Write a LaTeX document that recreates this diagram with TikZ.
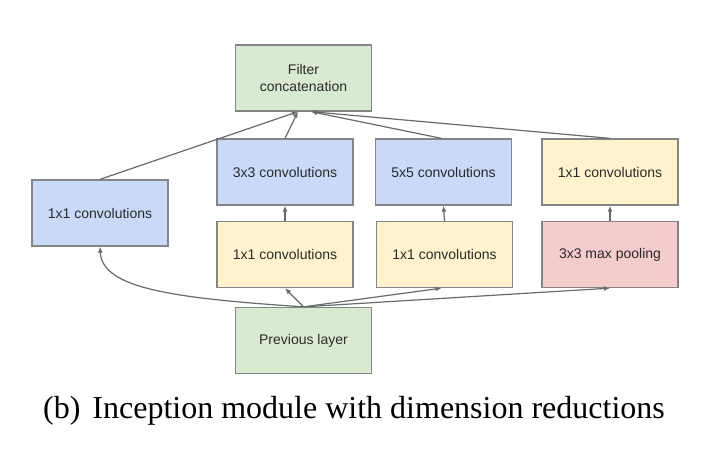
\documentclass[tikz,border=0pt]{standalone}
\usepackage{fontspec}
\setmainfont{Liberation Serif}
\newfontfamily\boxfont{Liberation Sans}
\usetikzlibrary{arrows.meta}
\definecolor{gfill}{HTML}{D9EAD3}
\definecolor{bfill}{HTML}{C9DAF8}
\definecolor{yfill}{HTML}{FFF2CC}
\definecolor{pfill}{HTML}{F4CCCC}
\definecolor{edgec}{HTML}{858585}
\definecolor{linec}{HTML}{6A6A6A}
\definecolor{txtc}{HTML}{2A2A2A}
\tikzset{
  box/.style={draw=edgec, line width=1.3pt, minimum width=136pt, minimum height=66pt,
    inner sep=0pt, align=center, text=txtc,
    font=\boxfont\fontsize{14}{17}\selectfont},
  green/.style={box, fill=gfill},
  blue/.style={box, fill=bfill},
  yellow/.style={box, fill=yfill},
  pink/.style={box, fill=pfill},
  conn/.style={draw=linec, line width=1.2pt, -{Latex[length=6pt,width=5pt]}}
}
\begin{document}
\begin{tikzpicture}[x=1pt,y=-1pt]
\useasboundingbox (0,0) rectangle (720,453);
\fill[white] (0,0) rectangle (720,453);
\node[green]  (concat) at (303.5,78)   {Filter\\concatenation};
\node[blue]   (c3)     at (285,172)    {3x3 convolutions};
\node[blue]   (c5)     at (443.5,172)  {5x5 convolutions};
\node[yellow] (r1)     at (610,172)    {1x1 convolutions};
\node[blue]   (l1)     at (100,213)    {1x1 convolutions};
\node[yellow] (ma)     at (285,254.5)  {1x1 convolutions};
\node[yellow] (mb)     at (444.5,254.5){1x1 convolutions};
\node[pink]   (pool)   at (610,254.5)  {3x3 max pooling};
\node[green]  (prev)   at (303.5,340.5){Previous layer};
% from previous layer
\draw[conn] (prev.north) .. controls (170,298) and (102,288) .. (l1.south);
\draw[conn] (prev.north) -- (ma.south);
\draw[conn] (prev.north) -- ([xshift=-3pt]mb.south);
\draw[conn] (prev.north) -- (pool.south);
% vertical
\draw[conn] (ma.north) -- (c3.south);
\draw[conn] (mb.north) -- (c5.south);
\draw[conn] (pool.north) -- (r1.south);
% to concatenation
\draw[conn] (l1.north) -- ([xshift=-5.5pt]concat.south);
\draw[conn] (c3.north) -- ([xshift=-5.5pt]concat.south);
\draw[conn] ([xshift=-2pt]c5.north) -- ([xshift=7.5pt]concat.south);
\draw[conn] (r1.north) -- ([xshift=7.5pt]concat.south);
\node[anchor=base, font=\fontsize{32}{38}\selectfont, inner sep=0pt] (cap) at (354,418)
  {(b)\hspace{12pt}Inception module with dimension reductions};
\end{tikzpicture}
\end{document}
